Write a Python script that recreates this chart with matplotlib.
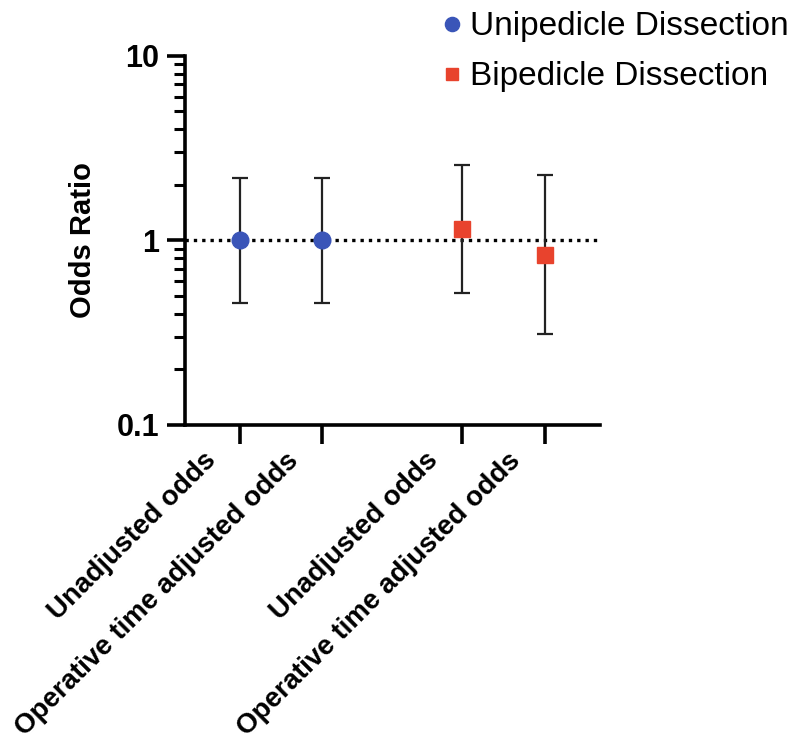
import matplotlib
matplotlib.use("Agg")
import matplotlib.pyplot as plt
from matplotlib.ticker import LogLocator, NullFormatter, FixedLocator, FixedFormatter
from matplotlib.transforms import ScaledTranslation
import numpy as np

plt.rcParams['font.family'] = ['Liberation Sans', 'DejaVu Sans']

# ---- data ----
categories = ["Unadjusted odds", "Operative time adjusted odds",
              "Unadjusted odds", "Operative time adjusted odds"]
x_pos = [0, 1, 2.7, 3.7]
groups = ["Unipedicle Dissection", "Unipedicle Dissection",
          "Bipedicle Dissection", "Bipedicle Dissection"]
odds = [1.0, 1.0, 1.15, 0.83]
ci_low = [0.46, 0.46, 0.52, 0.31]
ci_high = [2.17, 2.17, 2.55, 2.27]
ytick_vals = [0.1, 1, 10]
ytick_labels = ["0.1", "1", "10"]

colors = {"Unipedicle Dissection": "#3A55B8", "Bipedicle Dissection": "#E8432D"}
markers = {"Unipedicle Dissection": "o", "Bipedicle Dissection": "s"}
msizes = {"Unipedicle Dissection": 12, "Bipedicle Dissection": 11}

fig = plt.figure(figsize=(8, 7.43), dpi=100)
ax = fig.add_axes([0.231, 0.428, 0.519, 0.497])

ax.set_yscale('log')
ax.set_ylim(0.1, 10)
ax.set_xlim(-0.67, 4.37)

# reference line
ax.axhline(1, color='black', linestyle=(0, (1, 1.5)), linewidth=2.4, zorder=1)

handles = {}
for xi, o, lo, hi, g in zip(x_pos, odds, ci_low, ci_high, groups):
    ax.errorbar([xi], [o], yerr=[[o - lo], [hi - o]], fmt='none',
                ecolor='#222222', elinewidth=1.6, capsize=6, capthick=1.6, zorder=2)
    h, = ax.plot([xi], [o], marker=markers[g], color=colors[g],
                 markersize=msizes[g], linestyle='none', zorder=3, label=g)
    handles[g] = h

# spines
for s in ['top', 'right']:
    ax.spines[s].set_visible(False)
for s in ['left', 'bottom']:
    ax.spines[s].set_linewidth(2.6)

ax.yaxis.set_major_locator(FixedLocator(ytick_vals))
ax.yaxis.set_major_formatter(FixedFormatter(ytick_labels))
ax.yaxis.set_minor_locator(LogLocator(base=10, subs=np.arange(2, 10)))
ax.yaxis.set_minor_formatter(NullFormatter())
ax.tick_params(axis='y', which='major', length=13, width=2.6, labelsize=22, pad=5.5)
ax.tick_params(axis='y', which='minor', length=8, width=2.2)
for lab in ax.get_yticklabels():
    lab.set_fontweight('bold')

ax.set_xticks(x_pos)
ax.set_xticklabels(categories, rotation=45, ha='right', va='top',
                   rotation_mode='anchor', fontsize=20, fontweight='bold')
ax.tick_params(axis='x', length=14, width=2.6, pad=8)
shift = ScaledTranslation(-37 / 100, 8 / 100, fig.dpi_scale_trans)
for lab in ax.get_xticklabels():
    lab.set_transform(lab.get_transform() + shift)

ax.set_ylabel("Odds Ratio", fontsize=21, fontweight='bold', labelpad=14)

leg = fig.legend([handles["Unipedicle Dissection"], handles["Bipedicle Dissection"]],
                 ["Unipedicle Dissection", "Bipedicle Dissection"],
                 loc='upper left', bbox_to_anchor=(0.515, 1.025), frameon=False,
                 fontsize=24, handlelength=0.6, handletextpad=0.25,
                 labelspacing=0.57, markerscale=0.85)

fig.savefig("out.png", dpi=100)
